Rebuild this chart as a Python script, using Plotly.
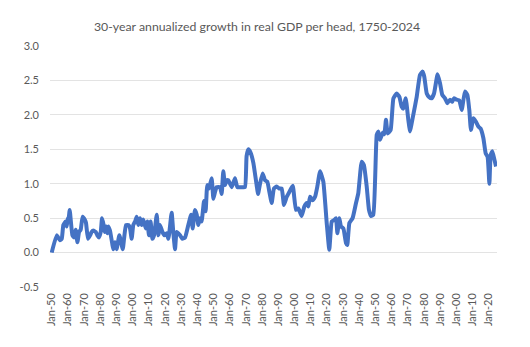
import plotly.graph_objects as go

years = [1750.0, 1753.1, 1755.1, 1756.2, 1757.2, 1758.6, 1759.3, 1759.9, 1760.3, 1761.1,
         1762.8, 1763.8, 1764.8, 1765.9, 1766.9, 1767.9, 1769.1, 1770.6, 1771.2, 1772.4,
         1773.7, 1774.7, 1775.7, 1777.2, 1778.2, 1779.2, 1780.3, 1781.1, 1782.1, 1782.7,
         1783.6, 1784.4, 1785.0, 1786.0, 1788.1, 1789.1, 1790.1, 1791.8, 1793.9, 1794.7,
         1795.9, 1797.4, 1798.4, 1799.4, 1800.4, 1801.5, 1802.5, 1803.5, 1804.6, 1805.6,
         1806.6, 1808.1, 1809.1, 1810.1, 1811.1, 1812.2, 1813.2, 1814.9, 1815.9, 1816.9,
         1818.4, 1819.6, 1821.0, 1822.1, 1824.1, 1825.1, 1826.2, 1827.2, 1829.3, 1830.7,
         1832.4, 1834.4, 1836.1, 1837.1, 1838.5, 1839.6, 1840.6, 1841.6, 1842.6, 1844.1,
         1845.1, 1846.1, 1847.2, 1848.8, 1849.9, 1850.9, 1851.9, 1854.0, 1855.0, 1856.0,
         1857.1, 1858.1, 1859.1, 1861.2, 1863.2, 1864.7, 1867.4, 1869.4, 1870.4, 1871.5,
         1872.9, 1874.6, 1876.6, 1877.5, 1878.7, 1880.3, 1881.8, 1883.2, 1884.5, 1885.9,
         1887.3, 1889.0, 1890.6, 1892.1, 1893.5, 1895.2, 1896.8, 1898.9, 1900.9, 1902.4,
         1904.4, 1906.1, 1907.5, 1908.6, 1909.6, 1911.2, 1912.7, 1914.1, 1915.8, 1917.8,
         1919.9, 1921.5, 1923.0, 1924.4, 1925.6, 1926.5, 1927.7, 1928.7, 1930.2, 1931.8,
         1932.6, 1933.9, 1935.9, 1938.0, 1939.4, 1941.5, 1942.9, 1944.6, 1946.0, 1947.3,
         1948.7, 1950.8, 1951.8, 1952.8, 1954.5, 1955.5, 1956.5, 1957.6, 1959.4, 1961.1,
         1963.1, 1964.8, 1966.2, 1967.2, 1968.7, 1970.3, 1971.4, 1972.4, 1973.8, 1975.5,
         1977.5, 1979.2, 1980.2, 1981.7, 1983.1, 1984.7, 1986.2, 1988.4, 1989.9, 1991.3,
         1993.0, 1994.4, 1996.1, 1997.5, 1998.5, 2000.2, 2001.8, 2003.3, 2005.3, 2006.8,
         2008.0, 2009.0, 2010.5, 2012.1, 2013.6, 2015.0, 2016.7, 2018.1, 2019.3, 2020.4,
         2021.2, 2022.2, 2023.5, 2024.5]

growth = [0.00, 0.25, 0.18, 0.20, 0.40, 0.45, 0.38, 0.50, 0.45, 0.62,
          0.25, 0.22, 0.33, 0.15, 0.30, 0.33, 0.52, 0.47, 0.43, 0.20,
          0.25, 0.30, 0.32, 0.30, 0.25, 0.22, 0.30, 0.50, 0.40, 0.30,
          0.38, 0.28, 0.38, 0.32, 0.05, 0.15, 0.05, 0.25, 0.05, 0.20,
          0.40, 0.40, 0.35, 0.20, 0.40, 0.45, 0.52, 0.40, 0.50, 0.40,
          0.48, 0.35, 0.45, 0.25, 0.45, 0.20, 0.25, 0.55, 0.25, 0.40,
          0.30, 0.25, 0.28, 0.20, 0.58, 0.30, 0.05, 0.30, 0.25, 0.20,
          0.22, 0.40, 0.55, 0.35, 0.62, 0.55, 0.40, 0.50, 0.45, 0.75,
          0.60, 0.98, 0.93, 1.08, 0.78, 0.88, 0.95, 0.95, 0.85, 1.18,
          0.98, 1.05, 1.05, 0.95, 1.08, 0.95, 0.95, 0.95, 1.40, 1.50,
          1.45, 1.30, 0.98, 0.85, 1.00, 1.15, 1.05, 1.03, 0.88, 0.72,
          0.93, 0.96, 0.93, 0.93, 0.69, 0.81, 0.88, 0.97, 0.62, 0.64,
          0.53, 0.67, 0.72, 0.67, 0.81, 0.76, 0.81, 0.96, 1.18, 1.03,
          0.43, 0.04, 0.45, 0.47, 0.50, 0.28, 0.50, 0.38, 0.35, 0.14,
          0.11, 0.43, 0.50, 0.72, 0.86, 1.32, 1.27, 0.96, 0.62, 0.53,
          0.55, 1.71, 1.76, 1.64, 1.74, 1.72, 1.93, 1.73, 1.78, 2.24,
          2.31, 2.26, 2.12, 2.09, 2.24, 1.93, 1.76, 1.88, 2.05, 2.26,
          2.58, 2.63, 2.55, 2.31, 2.26, 2.24, 2.31, 2.59, 2.46, 2.29,
          2.24, 2.17, 2.22, 2.19, 2.24, 2.22, 2.21, 2.07, 2.34, 2.29,
          2.07, 1.78, 1.95, 1.90, 1.83, 1.80, 1.66, 1.44, 1.39, 1.00,
          1.42, 1.47, 1.35, 1.25]

tick_years = list(range(1750, 2021, 10))
tick_labels = ["Jan-%02d" % (y % 100) for y in tick_years]
y_ticks = [-0.5, 0.0, 0.5, 1.0, 1.5, 2.0, 2.5, 3.0]
y_labels = ["%.1f" % v for v in y_ticks]

title_text = "30-year annualized growth in real GDP per head, 1750-2024"

fig = go.Figure()
fig.add_trace(go.Scatter(
    x=years, y=growth, mode="lines",
    line=dict(color="#4472C4", width=4, shape="spline", smoothing=0.4),
    hoverinfo="x+y", showlegend=False,
))

fig.update_layout(
    width=530, height=347,
    margin=dict(l=50, r=33, t=46, b=60),
    paper_bgcolor="white", plot_bgcolor="white",
    font=dict(family="Lato, Open Sans, sans-serif", color="#595959"),
    title=dict(text=title_text, x=0.485, xanchor="center", y=1 - 27 / 347,
               yanchor="middle", font=dict(size=12.3, color="#595959")),
    xaxis=dict(
        range=[1748.95, 2025.1],
        tickmode="array", tickvals=tick_years, ticktext=tick_labels,
        tickangle=-90, tickfont=dict(size=11, color="#595959"),
        showgrid=False, zeroline=False,
        showline=False, ticks="", ticklabelstandoff=3,
    ),
    yaxis=dict(
        range=[-0.5, 3.0],
        tickmode="array", tickvals=y_ticks, ticktext=y_labels,
        tickfont=dict(size=11, color="#595959"),
        showgrid=True, gridcolor="#E3E3E3", gridwidth=1,
        zeroline=False, showline=False, ticks="", ticklabelstandoff=10,
    ),
)

fig.write_html("out.html")
